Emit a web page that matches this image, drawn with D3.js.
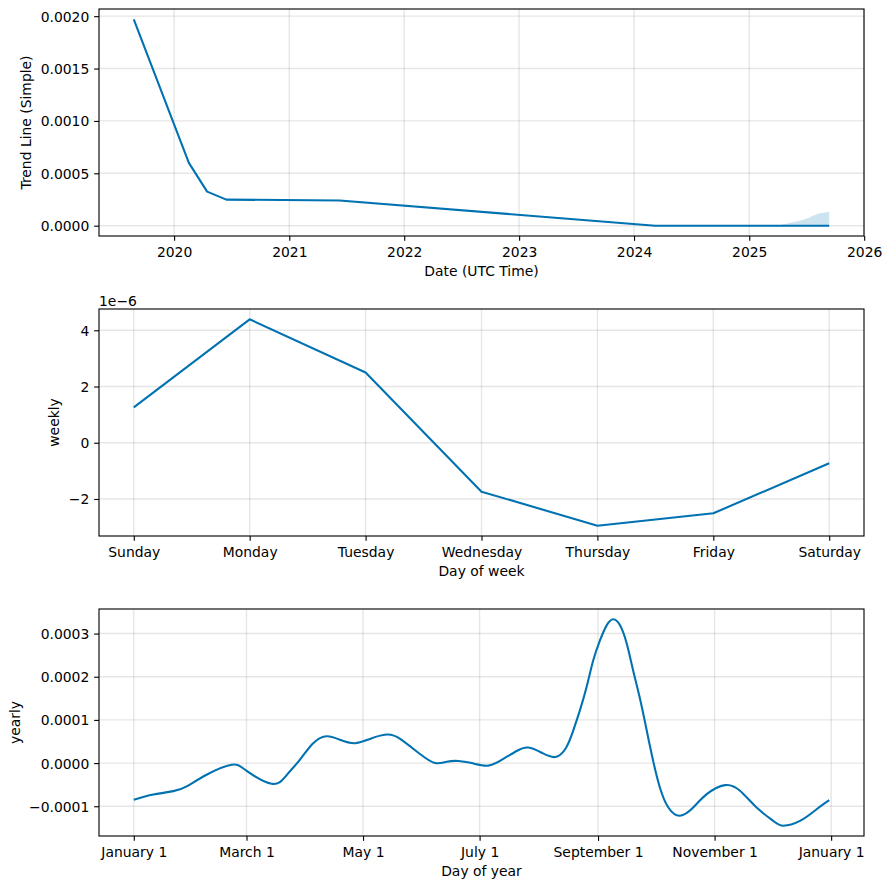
<!DOCTYPE html>
<html><head><meta charset="utf-8">
<script src="https://cdn.jsdelivr.net/npm/d3@7"></script>
<style>body{margin:0;background:#fff} text{font-family:"DejaVu Sans",sans-serif;fill:#000}</style>
</head><body>
<script>
// ---- Trend panel data ----
const trendDates  = ["2019-08-26","2020-02-17","2020-04-15","2020-06-15","2021-06-10","2024-03-08","2025-09-12"];
const trendValues = [0.00197, 0.00060, 0.000325, 0.000249, 0.00024, 0.0, 0.0];
const bandDates   = ["2025-03-30","2025-06-11","2025-07-07","2025-07-22","2025-08-13","2025-09-12"];
const bandUpper   = [0.0, 0.000048, 0.00007, 0.000096, 0.000118, 0.000134];
const bandLower   = [0.0, 0.0, 0.0, 0.0, 0.0, 0.0];
const trendYTicks = [0, 0.0005, 0.001, 0.0015, 0.002];
const trendXTicks = ["2020","2021","2022","2023","2024","2025","2026"];

// ---- Weekly panel data ----
const weekDays     = ["Sunday","Monday","Tuesday","Wednesday","Thursday","Friday","Saturday"];
const weeklyValues = [1.26e-6, 4.39e-6, 2.5e-6, -1.74e-6, -2.95e-6, -2.51e-6, -0.73e-6];
const weeklyYTicks = [-2e-6, 0, 2e-6, 4e-6];

// ---- Yearly panel data (day offset from January 1, 2017) ----
const yearlyDays   = [0, 10.2, 20.7, 27.7, 38.1, 51.2, 59.1, 72.2, 80.0, 87.0, 93.9, 101.0, 107.9, 115.8, 123.6, 132.4, 139.4, 149.8, 157.7, 163.8, 169.8, 176.9, 184.7, 191.7, 200.4, 206.5, 213.5, 220.5, 226.2, 230.0, 233.5, 237.0, 240.5, 244.0, 247.5, 251.0, 254.5, 258.0, 261.4, 264.9, 268.5, 271.9, 275.4, 279.8, 285.9, 292.8, 299.9, 309.4, 317.3, 326.0, 334.7, 339.9, 348.7, 357.4, 364];
const yearlyValues = [-0.000085, -0.000073, -0.000065, -0.000054, -0.000027, -0.000004, -0.000018, -0.000048, -0.000028, 0.000008, 0.000046, 0.000062, 0.000054, 0.000046, 0.000056, 0.000066, 0.000056, 0.000021, 0.0, 0.000003, 0.000005, 0.0, -0.000006, 0.000005, 0.000028, 0.000036, 0.000024, 0.000014, 0.000035, 0.000075, 0.000122, 0.000176, 0.000238, 0.000284, 0.000319, 0.000333, 0.000319, 0.000277, 0.000214, 0.00015, 0.000075, 0.000004, -0.000057, -0.000103, -0.000122, -0.000103, -0.000072, -0.000051, -0.000064, -0.000103, -0.000134, -0.000145, -0.000134, -0.000107, -0.000086];
const yearlyXTicks = ["2017-01-01","2017-03-01","2017-05-01","2017-07-01","2017-09-01","2017-11-01","2018-01-01"];
const yearlyYTicks = [-0.0001, 0, 0.0001, 0.0002, 0.0003];

// ---- layout ----
const W = 889, H = 889;
const L = 99, R = 864, PH = 227;
const tops = [9, 309, 609];
const FS = 13.9, TL = 4.86, TP = 4.86;
const blue = "#0072B2";
const pd = d3.utcParse("%Y-%m-%d");

const svg = d3.select("body").append("svg").attr("width", W).attr("height", H).style("display", "block");

function pad(lo, hi) { const s = hi - lo; return [lo - 0.05 * s, hi + 0.05 * s]; }

function panel(top, x, y, xTicks, xFmt, yTicks, yFmt) {
  const g = svg.append("g");
  const gg = g.append("g");
  gg.selectAll(null).data(xTicks).join("line")
    .attr("x1", d => x(d)).attr("x2", d => x(d)).attr("y1", top).attr("y2", top + PH)
    .attr("stroke", "#808080").attr("stroke-opacity", 0.2).attr("stroke-width", 1.39);
  gg.selectAll(null).data(yTicks).join("line")
    .attr("y1", d => y(d)).attr("y2", d => y(d)).attr("x1", L).attr("x2", R)
    .attr("stroke", "#808080").attr("stroke-opacity", 0.2).attr("stroke-width", 1.39);
  const ax = g.append("g").attr("transform", `translate(0,${top + PH})`)
    .call(d3.axisBottom(x).tickValues(xTicks).tickFormat(xFmt).tickSize(TL).tickPadding(TP).tickSizeOuter(0));
  const ay = g.append("g").attr("transform", `translate(${L},0)`)
    .call(d3.axisLeft(y).tickValues(yTicks).tickFormat(yFmt).tickSize(TL).tickPadding(TP).tickSizeOuter(0));
  [ax, ay].forEach(a => {
    a.select(".domain").remove();
    a.selectAll(".tick line").attr("stroke", "#000").attr("stroke-width", 1.11);
    a.selectAll("text").attr("font-size", FS).attr("font-family", "DejaVu Sans").attr("fill", "#000");
  });
  ax.selectAll("text").attr("dy", null).attr("y", 20.5);
  ay.selectAll("text").attr("dy", "0.36em");
  return g;
}
function frame(top) {
  svg.append("rect").attr("x", L).attr("y", top).attr("width", R - L).attr("height", PH)
    .attr("fill", "none").attr("stroke", "#000").attr("stroke-width", 1.11);
}
function labels(top, xl, yl, ylx) {
  svg.append("text").attr("x", (L + R) / 2).attr("y", top + PH + 40).attr("text-anchor", "middle")
    .attr("font-size", FS).text(xl);
  svg.append("text").attr("transform", `translate(${ylx},${top + PH / 2}) rotate(-90)`)
    .attr("text-anchor", "middle").attr("font-size", FS).text(yl);
}

// ---- Panel 1: trend ----
{
  const top = tops[0];
  const tD = trendDates.map(pd), bD = bandDates.map(pd);
  const xd = pad(+tD[0], +tD[tD.length - 1]);
  const x = d3.scaleUtc().domain([new Date(xd[0]), new Date(xd[1])]).range([L, R]);
  const yd = pad(Math.min(d3.min(trendValues), d3.min(bandLower)), Math.max(d3.max(trendValues), d3.max(bandUpper)));
  const y = d3.scaleLinear().domain(yd).range([top + PH, top]);
  const g = panel(top, x, y, trendXTicks.map(s => pd(s + "-01-01")), d3.utcFormat("%Y"), trendYTicks, d3.format(".4f"));
  g.append("path").datum(bD.map((d, i) => [d, bandLower[i], bandUpper[i]]))
    .attr("d", d3.area().x(d => x(d[0])).y0(d => y(d[1])).y1(d => y(d[2])))
    .attr("fill", blue).attr("fill-opacity", 0.2);
  g.append("path").datum(tD.map((d, i) => [d, trendValues[i]]))
    .attr("d", d3.line().x(d => x(d[0])).y(d => y(d[1])))
    .attr("fill", "none").attr("stroke", blue).attr("stroke-width", 2.08).attr("stroke-linejoin", "round");
  frame(top);
  labels(top, "Date (UTC Time)", "Trend Line (Simple)", 31);
}

// ---- Panel 2: weekly ----
{
  const top = tops[1];
  const idx = d3.range(weekDays.length);
  const x = d3.scaleLinear().domain(pad(0, weekDays.length - 1)).range([L, R]);
  const y = d3.scaleLinear().domain(pad(d3.min(weeklyValues), d3.max(weeklyValues))).range([top + PH, top]);
  const g = panel(top, x, y, idx, i => weekDays[i], weeklyYTicks, d => d3.format("d")(Math.round(d * 1e6)));
  g.append("path").datum(idx)
    .attr("d", d3.line().x(i => x(i)).y(i => y(weeklyValues[i])))
    .attr("fill", "none").attr("stroke", blue).attr("stroke-width", 2.08).attr("stroke-linejoin", "round");
  frame(top);
  labels(top, "Day of week", "weekly", 59);
  svg.append("text").attr("x", L).attr("y", top - 3).attr("font-size", FS).text("1e\u22126");
}

// ---- Panel 3: yearly ----
{
  const top = tops[2];
  const t0 = +pd("2017-01-01");
  const dates = yearlyDays.map(d => new Date(t0 + d * 864e5));
  const xd = pad(+dates[0], +dates[dates.length - 1]);
  const x = d3.scaleUtc().domain([new Date(xd[0]), new Date(xd[1])]).range([L, R]);
  const y = d3.scaleLinear().domain(pad(d3.min(yearlyValues), d3.max(yearlyValues))).range([top + PH, top]);
  const g = panel(top, x, y, yearlyXTicks.map(pd), d3.utcFormat("%B %-d"), yearlyYTicks, d3.format(".4f"));
  g.append("path").datum(dates.map((d, i) => [d, yearlyValues[i]]))
    .attr("d", d3.line().x(d => x(d[0])).y(d => y(d[1])).curve(d3.curveNatural))
    .attr("fill", "none").attr("stroke", blue).attr("stroke-width", 2.08).attr("stroke-linejoin", "round");
  frame(top);
  labels(top, "Day of year", "yearly", 20);
}
</script>
</body></html>
